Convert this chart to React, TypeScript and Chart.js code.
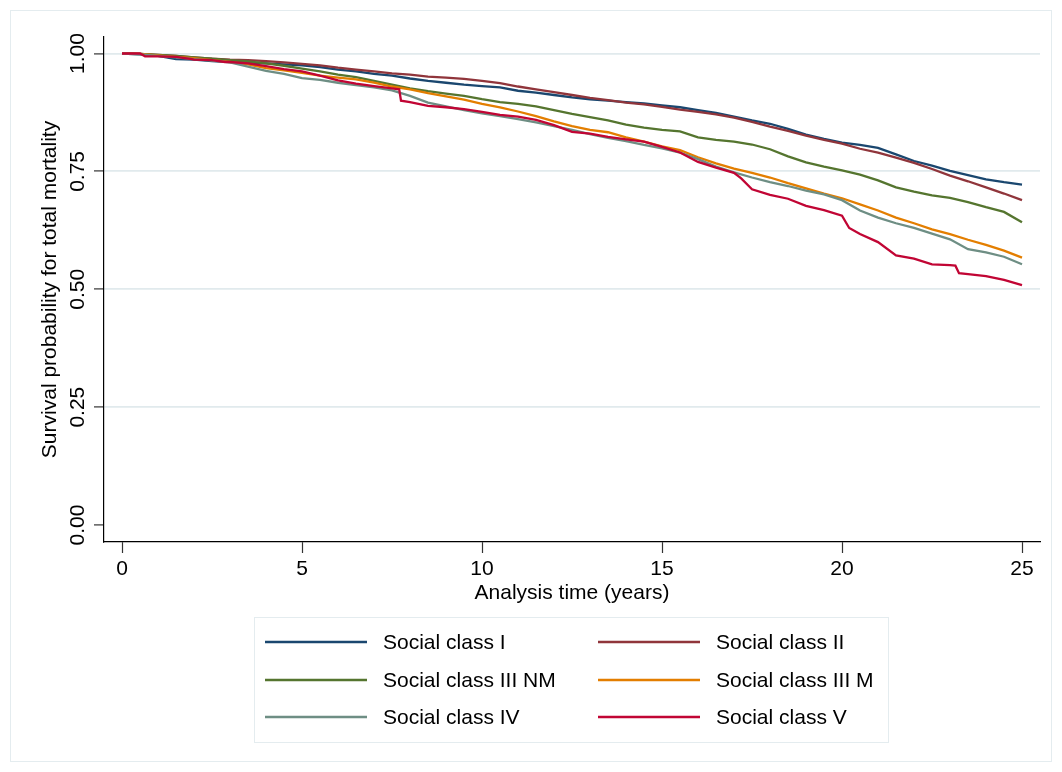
import React, { useEffect, useRef } from 'react';
import { Chart, registerables } from 'chart.js';

Chart.register(...registerables);

const FONT = '"Liberation Sans", Arial, Helvetica, sans-serif';

const seriesLabels = [
  'Social class I',
  'Social class II',
  'Social class III NM',
  'Social class III M',
  'Social class IV',
  'Social class V',
];
const seriesColors = ['#1a476f', '#90353b', '#55752f', '#e37e00', '#6e8e84', '#c10534'];

const timeGrid = [
  0, 0.5, 1, 1.5, 2, 2.5, 3, 3.5, 4, 4.5, 5, 5.5, 6, 6.5, 7, 7.5, 8, 8.5, 9, 9.5,
  10, 10.5, 11, 11.5, 12, 12.5, 13, 13.5, 14, 14.5, 15, 15.5, 16, 16.5, 17, 17.5,
  18, 18.5, 19, 19.5, 20, 20.5, 21, 21.5, 22, 22.5, 23, 23.5, 24, 24.5, 25,
];

const classI = [
  1.0, 0.998, 0.995, 0.988, 0.987, 0.984, 0.982, 0.98, 0.979, 0.977, 0.975, 0.971,
  0.966, 0.962, 0.957, 0.953, 0.947, 0.942, 0.938, 0.934, 0.931, 0.928, 0.921, 0.917,
  0.912, 0.907, 0.903, 0.9, 0.897, 0.894, 0.89, 0.886, 0.88, 0.874, 0.866, 0.858,
  0.851, 0.84, 0.828, 0.819, 0.811, 0.806, 0.8, 0.786, 0.772, 0.762, 0.751, 0.742,
  0.733, 0.727, 0.722,
];

const classII = [
  1.0, 0.999, 0.997, 0.995, 0.992, 0.989, 0.987, 0.986, 0.984, 0.981, 0.978, 0.975,
  0.97, 0.966, 0.962, 0.958, 0.955, 0.951, 0.949, 0.946, 0.942, 0.937, 0.93, 0.924,
  0.918, 0.912, 0.906, 0.901, 0.896, 0.892, 0.887, 0.881, 0.876, 0.871, 0.864, 0.855,
  0.845, 0.836, 0.826, 0.817, 0.809, 0.798, 0.79, 0.779, 0.768, 0.755, 0.741, 0.729,
  0.716, 0.703, 0.689,
];

const classIIINM = [
  1.0, 0.999, 0.997, 0.995, 0.992, 0.989, 0.986, 0.983, 0.979, 0.974, 0.968, 0.962,
  0.955, 0.95, 0.942, 0.934, 0.926, 0.92, 0.915, 0.91, 0.903, 0.897, 0.893, 0.888,
  0.88, 0.872, 0.865, 0.858, 0.849, 0.843, 0.838, 0.835, 0.822, 0.817, 0.813, 0.807,
  0.797, 0.782, 0.769, 0.76, 0.752, 0.743, 0.731, 0.716, 0.707, 0.699, 0.694, 0.685,
  0.674, 0.664, 0.642,
];

const classIIIM = [
  1.0, 0.999, 0.996, 0.993, 0.99, 0.986, 0.982, 0.977, 0.969, 0.964, 0.959, 0.953,
  0.949, 0.945, 0.938, 0.93, 0.924, 0.916, 0.909, 0.902, 0.893, 0.886, 0.877, 0.867,
  0.856, 0.846, 0.838, 0.833, 0.822, 0.813, 0.803, 0.795, 0.78, 0.767, 0.756, 0.747,
  0.737, 0.725, 0.714, 0.703, 0.693, 0.68, 0.667, 0.652, 0.64, 0.627, 0.617, 0.605,
  0.594, 0.582, 0.567,
];

const classIV = [
  1.0, 0.998, 0.995, 0.992, 0.988, 0.985, 0.981, 0.972, 0.963, 0.957, 0.948, 0.944,
  0.938, 0.933, 0.928, 0.922, 0.91, 0.896, 0.888, 0.88, 0.873, 0.867, 0.861, 0.854,
  0.846, 0.838, 0.829, 0.821, 0.814, 0.806, 0.799, 0.79, 0.776, 0.76, 0.748, 0.737,
  0.727, 0.719, 0.709, 0.701, 0.689, 0.667, 0.652, 0.64, 0.63, 0.618, 0.606, 0.585,
  0.578, 0.569, 0.553,
];

const timesV = [
  0, 0.5, 0.64, 1, 1.5, 1.94, 2, 2.5, 2.86, 3, 3.5, 4, 4.5, 5, 5.5, 6, 6.5, 7, 7.5,
  7.7, 7.75, 8, 8.5, 9, 9.5, 10, 10.5, 11, 11.5, 12, 12.5, 13, 13.5, 14, 14.5, 15,
  15.5, 16, 16.5, 17, 17.2, 17.5, 18, 18.5, 19, 19.5, 20, 20.2, 20.5, 21, 21.5, 22,
  22.5, 23, 23.15, 23.25, 23.5, 24, 24.5, 25,
];

const classV = [
  1.0, 1.0, 0.994, 0.994, 0.993, 0.988, 0.987, 0.986, 0.982, 0.982, 0.979, 0.973,
  0.967, 0.962, 0.953, 0.943, 0.936, 0.931, 0.926, 0.924, 0.9, 0.897, 0.889, 0.886,
  0.882, 0.876, 0.87, 0.866, 0.859, 0.848, 0.834, 0.83, 0.823, 0.818, 0.813, 0.802,
  0.79, 0.77, 0.758, 0.747, 0.735, 0.712, 0.7, 0.692, 0.677, 0.668, 0.656, 0.63,
  0.617, 0.6, 0.572, 0.565, 0.553, 0.551, 0.55, 0.534, 0.532, 0.528, 0.52, 0.509,
];

const xTicks = [0, 5, 10, 15, 20, 25];
const yTicks = [0, 0.25, 0.5, 0.75, 1];
const yTickLabels = ['0.00', '0.25', '0.50', '0.75', '1.00'];

const xTitle = 'Analysis time (years)';
const yTitle = 'Survival probability for total mortality';

function pairs(ts: number[], vs: number[]) {
  return ts.map((t, i) => ({ x: t, y: vs[i] }));
}

const bgPlugin = {
  id: 'bgFrame',
  beforeDraw(chart: any) {
    const c = chart.ctx;
    c.save();
    c.fillStyle = '#ffffff';
    c.fillRect(0, 0, chart.width, chart.height);
    c.strokeStyle = '#e4ecef';
    c.lineWidth = 1;
    c.strokeRect(10.5, 10.5, 1041, 751);
    c.restore();
  },
};

const yLabelPlugin = {
  id: 'yRotLabels',
  afterDraw(chart: any) {
    const c = chart.ctx;
    const ys = chart.scales.y;
    c.save();
    c.fillStyle = '#000';
    c.font = `21px ${FONT}`;
    c.textAlign = 'center';
    c.textBaseline = 'alphabetic';
    yTicks.forEach((v, i) => {
      const py = ys.getPixelForValue(v);
      c.save();
      c.translate(84, py);
      c.rotate(-Math.PI / 2);
      c.fillText(yTickLabels[i], 0, 0);
      c.restore();
    });
    c.restore();
  },
};

const legendPlugin = {
  id: 'boxLegend',
  afterDraw(chart: any) {
    const c = chart.ctx;
    c.save();
    c.fillStyle = '#ffffff';
    c.fillRect(254, 617, 634, 125);
    c.strokeStyle = '#e4ecef';
    c.lineWidth = 1;
    c.strokeRect(254.5, 617.5, 634, 125);
    const colX = [265, 598];
    const rowY = [642, 680, 717];
    c.font = `21px ${FONT}`;
    c.textBaseline = 'middle';
    c.textAlign = 'left';
    chart.data.datasets.forEach((ds: any, i: number) => {
      const col = i % 2;
      const row = Math.floor(i / 2);
      const x0 = colX[col];
      const y0 = rowY[row];
      c.strokeStyle = ds.borderColor;
      c.lineWidth = 2.3;
      c.beginPath();
      c.moveTo(x0, y0);
      c.lineTo(x0 + 102, y0);
      c.stroke();
      c.fillStyle = '#000';
      c.fillText(ds.label, x0 + 118, y0 + 1);
    });
    c.restore();
  },
};

export default function App() {
  const ref = useRef<HTMLCanvasElement | null>(null);

  useEffect(() => {
    document.body.style.margin = '0';
    const canvas = ref.current;
    if (!canvas) return;
    const seriesData = [
      pairs(timeGrid, classI),
      pairs(timeGrid, classII),
      pairs(timeGrid, classIIINM),
      pairs(timeGrid, classIIIM),
      pairs(timeGrid, classIV),
      pairs(timesV, classV),
    ];
    const chart = new Chart(canvas, {
      type: 'line',
      data: {
        datasets: seriesData.map((d, i) => ({
          label: seriesLabels[i],
          data: d,
          borderColor: seriesColors[i],
          backgroundColor: seriesColors[i],
          borderWidth: 2.3,
          pointRadius: 0,
          tension: 0,
          fill: false,
          order: 5 - i,
        })),
      },
      options: {
        animation: false,
        responsive: false,
        maintainAspectRatio: false,
        layout: { padding: { left: 0, top: 37, right: 22, bottom: 152 } },
        plugins: {
          legend: { display: false },
          tooltip: { enabled: false },
        },
        scales: {
          x: {
            type: 'linear',
            min: -0.5,
            max: 25.5,
            afterBuildTicks: (s: any) => {
              s.ticks = xTicks.map((v) => ({ value: v }));
            },
            afterFit: (s: any) => {
              s.height = 78;
            },
            grid: {
              drawOnChartArea: false,
              drawTicks: true,
              tickLength: 11,
              tickColor: '#333',
              tickWidth: 1.2,
            },
            border: { display: true, color: '#000', width: 1.2 },
            ticks: {
              color: '#000',
              font: { family: FONT, size: 21 },
              padding: 4,
              maxRotation: 0,
              minRotation: 0,
              callback: (v: any) => String(v),
            },
            title: {
              display: true,
              text: xTitle,
              color: '#000',
              font: { family: FONT, size: 21 },
              padding: { top: 0, bottom: 14 },
            },
          },
          y: {
            type: 'linear',
            min: -0.036,
            max: 1.035,
            afterBuildTicks: (s: any) => {
              s.ticks = yTicks.map((v) => ({ value: v }));
            },
            afterFit: (s: any) => {
              s.width = 104;
            },
            grid: {
              drawOnChartArea: true,
              drawTicks: true,
              tickLength: 10,
              tickColor: '#333',
              tickWidth: 1.2,
              lineWidth: 1.8,
              color: (ctx: any) =>
                ctx.tick && ctx.tick.value === 0 ? 'rgba(0,0,0,0)' : '#e1eaed',
            },
            border: { display: true, color: '#000', width: 1.2 },
            ticks: { display: false },
            title: {
              display: true,
              text: yTitle,
              color: '#000',
              font: { family: FONT, size: 21 },
              padding: { top: 38, bottom: 0 },
            },
          },
        },
      },
      plugins: [bgPlugin, yLabelPlugin, legendPlugin],
    });
    return () => chart.destroy();
  }, []);

  return (
    <div style={{ width: 1062, height: 772 }}>
      <canvas ref={ref} width={1062} height={772} style={{ display: 'block' }} />
    </div>
  );
}
